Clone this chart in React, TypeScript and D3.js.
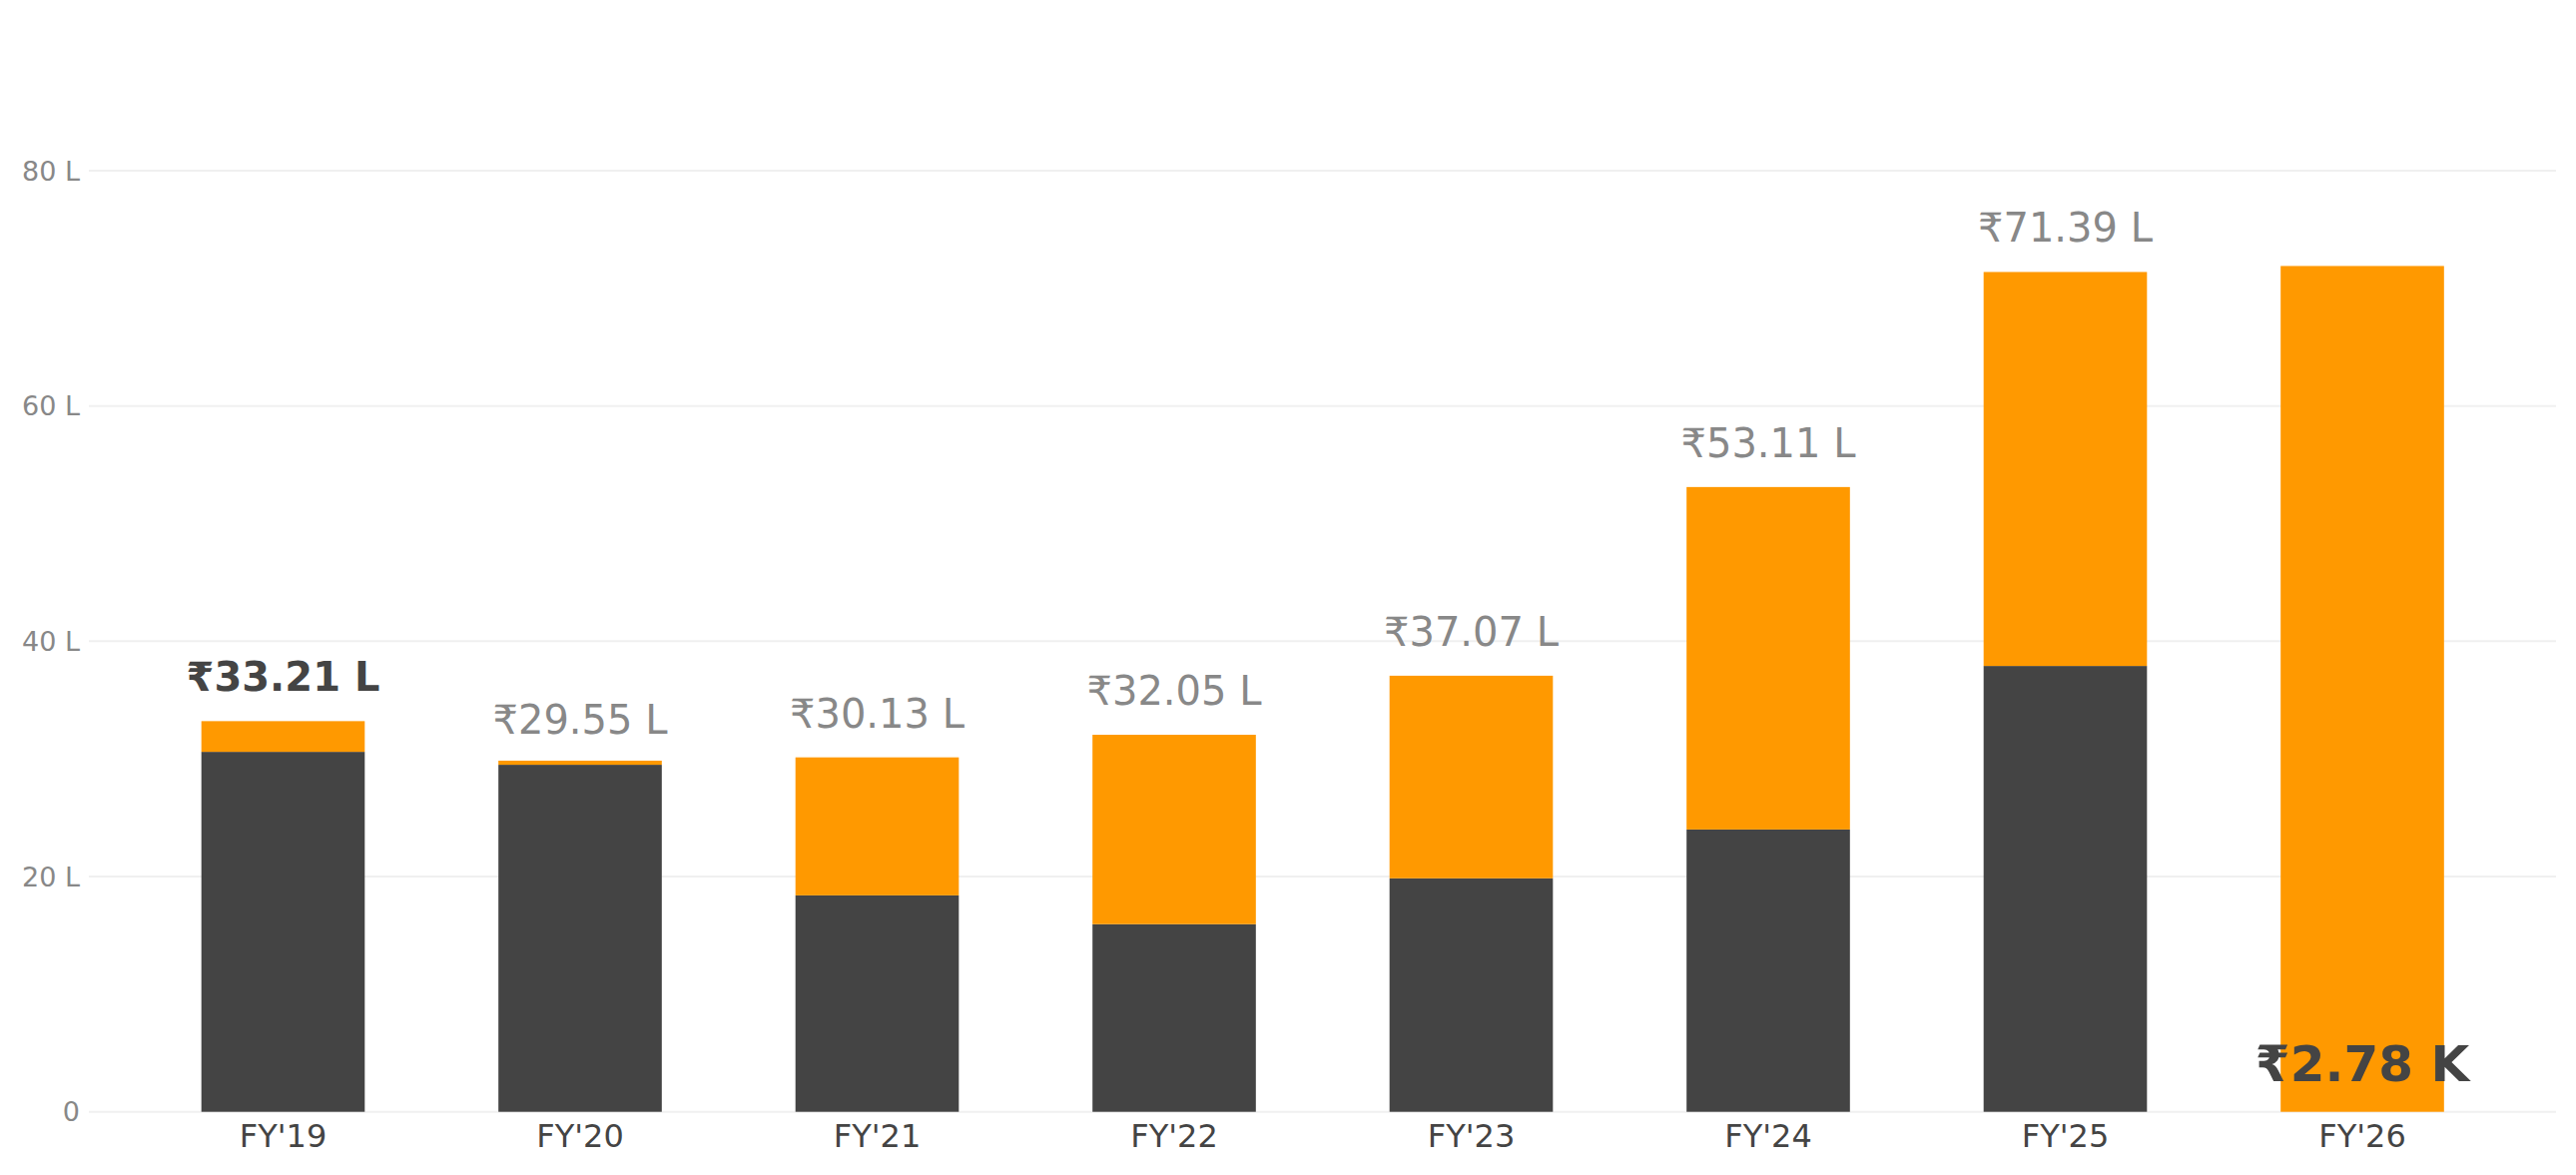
import React from "react";
import * as d3 from "d3";

const categories = ["FY'19", "FY'20", "FY'21", "FY'22", "FY'23", "FY'24", "FY'25", "FY'26"];
const darkValues = [30.6, 29.5, 18.4, 15.95, 19.85, 24.0, 37.9, 0];
const orangeValues = [2.61, 0.35, 11.73, 16.1, 17.22, 29.11, 33.49, 71.9];
const labelValues = [33.21, 29.55, 30.13, 32.05, 37.07, 53.11, 71.39, 0.0278];
const labelTexts = ["₹33.21 L", "₹29.55 L", "₹30.13 L", "₹32.05 L", "₹37.07 L", "₹53.11 L", "₹71.39 L", "₹2.78 K"];
const highlighted = [true, false, false, false, false, false, false, true];
const yTicks = [0, 20, 40, 60, 80];
const yTickLabels = ["0", "20 L", "40 L", "60 L", "80 L"];

const W = 2580;
const H = 1177;
const FONT = "'DejaVu Sans', 'Noto Sans', sans-serif";

export default function App() {
  const x = d3
    .scaleBand<string>()
    .domain(categories)
    .range([134.75, 2514.75])
    .paddingInner(0.45)
    .paddingOuter(0.225);
  const y = d3.scaleLinear().domain([0, 80]).range([1113.7, 171]);
  const bw = x.bandwidth();

  return (
    <svg
      width={W}
      height={H}
      style={{ position: "absolute", left: 0, top: 0, background: "#fff" }}
      fontFamily={FONT}
    >
      <g>
        {yTicks.map((t, i) => (
          <g key={t}>
            <line x1={89} x2={2560} y1={y(t)} y2={y(t)} stroke="#f0f0f0" strokeWidth={2} />
            <text x={80} y={y(t)} dy="0.36em" textAnchor="end" fontSize={27} fill="#888888">
              {yTickLabels[i]}
            </text>
          </g>
        ))}
      </g>
      <g>
        {categories.map((c, i) => {
          const x0 = x(c) as number;
          const d = darkValues[i];
          const o = orangeValues[i];
          return (
            <g key={c}>
              {d > 0 && (
                <rect x={x0} width={bw} y={y(d)} height={y(0) - y(d)} fill="#444444" />
              )}
              {o > 0 && (
                <rect x={x0} width={bw} y={y(d + o)} height={y(d) - y(d + o)} fill="#FF9900" />
              )}
            </g>
          );
        })}
      </g>
      <g>
        {categories.map((c, i) => {
          const cx = (x(c) as number) + bw / 2;
          const hl = highlighted[i];
          const size = i === categories.length - 1 ? 50 : 40;
          return (
            <text
              key={c}
              x={cx}
              y={y(labelValues[i]) - 30}
              textAnchor="middle"
              fontSize={size}
              fontWeight={hl ? "bold" : "normal"}
              fill={hl ? "#444444" : "#888888"}
            >
              {labelTexts[i]}
            </text>
          );
        })}
      </g>
      <g>
        {categories.map((c) => (
          <text
            key={c}
            x={(x(c) as number) + bw / 2}
            y={1149}
            textAnchor="middle"
            fontSize={32}
            fill="#444444"
          >
            {c}
          </text>
        ))}
      </g>
    </svg>
  );
}
